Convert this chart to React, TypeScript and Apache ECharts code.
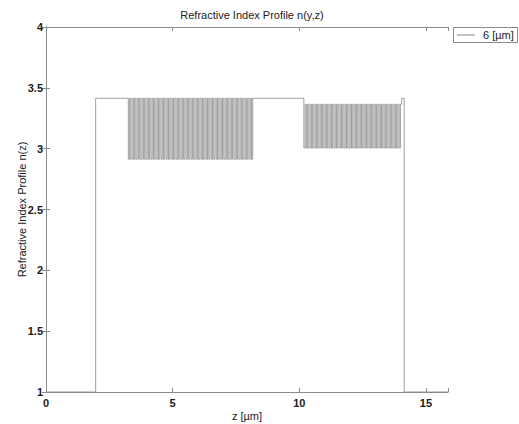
import React, { useEffect, useRef } from "react";
import * as echarts from "echarts";

// Profile segments (z in µm, refractive index n)
const segStart = [0, 1.96, 3.25, 8.21, 10.18, 14.04, 14.14];
const segEnd = [1.96, 3.25, 8.21, 10.18, 14.04, 14.14, 15.87];
const segHigh = [1, 3.414, 3.414, 3.414, 3.365, 3.414, 1];
const segLow = [1, 3.414, 2.913, 3.414, 3.005, 3.414, 1];
const segPeriod = [0, 0, 0.1, 0, 0.1, 0, 0];

const xTicks = [0, 5, 10, 15];
const yTicks = [1, 1.5, 2, 2.5, 3, 3.5, 4];
const seriesName = "6 [\u00b5m]";

function buildProfile(): number[][] {
  const pts: number[][] = [];
  for (let i = 0; i < segStart.length; i++) {
    const a = segStart[i];
    const b = segEnd[i];
    const p = segPeriod[i];
    if (!p) {
      pts.push([a, segHigh[i]]);
      pts.push([b, segHigh[i]]);
    } else {
      const n = Math.round((b - a) / p);
      const per = (b - a) / n;
      for (let k = 0; k < n; k++) {
        const z0 = a + k * per;
        const zm = z0 + per / 2;
        const z1 = z0 + per;
        pts.push([z0, segLow[i]]);
        pts.push([zm, segLow[i]]);
        pts.push([zm, segHigh[i]]);
        pts.push([z1, segHigh[i]]);
      }
    }
  }
  return pts;
}

const AXIS = "#8a8a8a";
const LINE = "#868686";
const TEXT = "#1a1a1a";
const FONT = "Liberation Sans, Arial, sans-serif";

export default function App() {
  const ref = useRef<HTMLDivElement>(null);
  useEffect(() => {
    if (!ref.current) return;
    const chart = echarts.init(ref.current, undefined, { renderer: "svg" });
    const common = {
      min: 0,
      max: 15.87,
      interval: 5,
    };
    chart.setOption({
      animation: false,
      backgroundColor: "#fff",
      title: {
        text: "Refractive Index Profile n(y,z)",
        left: 247,
        textAlign: "center",
        top: 4,
        textStyle: { fontSize: 11, fontWeight: "normal", color: TEXT, fontFamily: FONT },
      },
      graphic: [
        {
          type: "rect",
          shape: { x: 453.5, y: 27.5, width: 64, height: 15 },
          style: { fill: "#fff", stroke: AXIS, lineWidth: 1 },
        },
        {
          type: "line",
          shape: { x1: 457, y1: 35, x2: 475, y2: 35 },
          style: { stroke: LINE, lineWidth: 1 },
        },
        {
          type: "text",
          x: 483,
          y: 35,
          style: {
            text: seriesName,
            fill: TEXT,
            fontSize: 11,
            fontFamily: FONT,
            verticalAlign: "middle",
            align: "left",
          },
        },
      ],
      grid: {
        left: 46,
        top: 27,
        width: 402,
        height: 365,
        containLabel: false,
        outerBoundsMode: "none",
      },
      xAxis: [
        {
          type: "value",
          ...common,
          position: "bottom",
          name: "z [\u00b5m]",
          nameLocation: "middle",
          nameGap: 18,
          nameMoveOverlap: false,
          nameTextStyle: { fontSize: 11, color: TEXT, fontFamily: FONT },
          axisLine: { show: true, lineStyle: { color: AXIS, width: 1 } },
          axisTick: { show: true, inside: true, length: 4, lineStyle: { color: AXIS } },
          axisLabel: {
            show: true,
            fontSize: 11,
            fontWeight: "bold",
            color: TEXT,
            fontFamily: FONT,
            margin: 5,
            formatter: (v: number) => (xTicks.includes(v) ? String(v) : ""),
          },
          splitLine: { show: false },
        },
        {
          type: "value",
          ...common,
          position: "top",
          axisLine: { show: true, lineStyle: { color: AXIS, width: 1 } },
          axisTick: { show: true, inside: true, length: 4, lineStyle: { color: AXIS } },
          axisLabel: { show: false },
          splitLine: { show: false },
        },
      ],
      yAxis: [
        {
          type: "value",
          min: 1,
          max: 4,
          interval: 0.5,
          position: "left",
          name: "Refractive Index Profile n(z)",
          nameLocation: "middle",
          nameGap: 19,
          nameMoveOverlap: false,
          nameTextStyle: { fontSize: 11, color: TEXT, fontFamily: FONT },
          axisLine: { show: true, lineStyle: { color: AXIS, width: 1 } },
          axisTick: { show: true, inside: true, length: 4, lineStyle: { color: AXIS } },
          axisLabel: {
            fontSize: 11,
            fontWeight: "bold",
            color: TEXT,
            fontFamily: FONT,
            margin: 3,
            formatter: (v: number) => (yTicks.includes(v) ? String(v) : ""),
          },
          splitLine: { show: false },
        },
        {
          type: "value",
          min: 1,
          max: 4,
          interval: 0.5,
          position: "right",
          axisLine: { show: true, lineStyle: { color: AXIS, width: 1 } },
          axisTick: { show: true, inside: true, length: 4, lineStyle: { color: AXIS } },
          axisLabel: { show: false },
          splitLine: { show: false },
        },
      ],
      series: [
        {
          name: seriesName,
          type: "line",
          xAxisIndex: 0,
          yAxisIndex: 0,
          data: buildProfile(),
          symbol: "none",
          lineStyle: { color: LINE, width: 0.8 },
          itemStyle: { color: LINE },
        },
      ],
    });
    return () => chart.dispose();
  }, []);
  return (
    <div
      ref={ref}
      style={{ position: "fixed", left: 0, top: 0, width: 519, height: 424, background: "#fff" }}
    />
  );
}
